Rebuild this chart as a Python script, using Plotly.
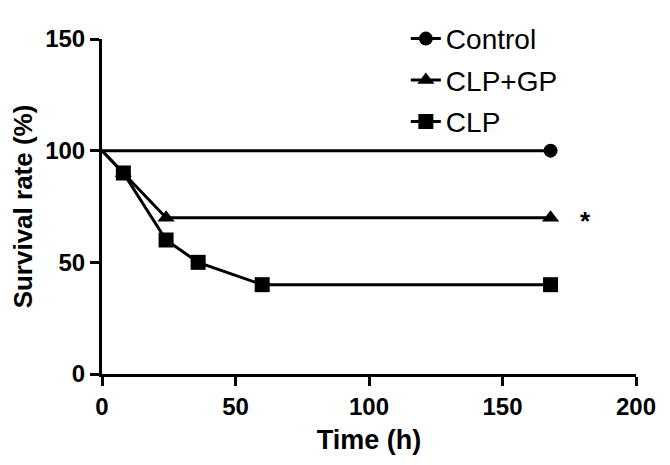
import plotly.graph_objects as go

# Data
control_x = [0, 168]
control_y = [100, 100]
clpgp_x = [0, 8, 24, 168]
clpgp_y = [100, 90, 70, 70]
clp_x = [0, 8, 24, 36, 60, 168]
clp_y = [100, 90, 60, 50, 40, 40]
x_ticks = [0, 50, 100, 150, 200]
y_ticks = [0, 50, 100, 150]
sig_x, sig_y, sig_text = 181, 70, "*"

series = [
    ("Control", control_x, control_y, "circle", 14),
    ("CLP+GP", clpgp_x, clpgp_y, "triangle-up", 15),
    ("CLP", clp_x, clp_y, "square", 15),
]

FONT = "Liberation Sans, Arial, sans-serif"

fig = go.Figure()
for name, xs, ys, sym, sz in series:
    # data trace (marker hidden at time 0, as in reference)
    fig.add_trace(go.Scatter(
        x=xs, y=ys, name=name, mode="lines+markers", showlegend=False,
        line=dict(color="black", width=3),
        marker=dict(symbol=sym, size=[0 if x == 0 else sz for x in xs],
                    color="black", opacity=1, line=dict(width=0, color="black")),
    ))
for name, xs, ys, sym, sz in series:
    # legend entry
    fig.add_trace(go.Scatter(
        x=[None], y=[None], name=name, mode="lines+markers", legendgroup=name,
        line=dict(color="black", width=3),
        marker=dict(symbol=sym, size=sz, color="black", opacity=1, line=dict(width=0)),
    ))

fig.add_annotation(x=sig_x, y=sig_y, text=sig_text, showarrow=False,
                   font=dict(family=FONT, size=26, color="black", weight="bold"),
                   yanchor="middle", yshift=-3)

axis_common = dict(showline=True, linecolor="black", linewidth=3, ticks="outside",
                   ticklen=9, tickwidth=3, tickcolor="black", showgrid=False, zeroline=False,
                   ticklabeloverflow="allow",
                   tickfont=dict(family=FONT, size=24, color="black", weight="bold"))

fig.update_xaxes(range=[0, 200], tickvals=x_ticks,
                 title=dict(text="Time (h)", font=dict(family=FONT, size=27, color="black", weight="bold"), standoff=12),
                 **axis_common)
fig.update_yaxes(range=[0, 150], tickvals=y_ticks,
                 title=dict(text="Survival rate (%)", font=dict(family=FONT, size=26, color="black", weight="bold"), standoff=10),
                 **axis_common)

# the page body adds an 8px margin on every side; keep the page within the
# 670x465 window (no scrollbars) and place the plot area where the reference has it
fig.update_layout(
    width=654, height=449,
    margin=dict(l=94, r=16, t=6, b=83),
    paper_bgcolor="white", plot_bgcolor="white",
    showlegend=True,
    legend=dict(x=0.569, y=1.075, xanchor="left", yanchor="top",
                font=dict(family=FONT, size=28, color="black"),
                bgcolor="rgba(0,0,0,0)", tracegroupgap=2),
)

fig.write_html("out.html")
